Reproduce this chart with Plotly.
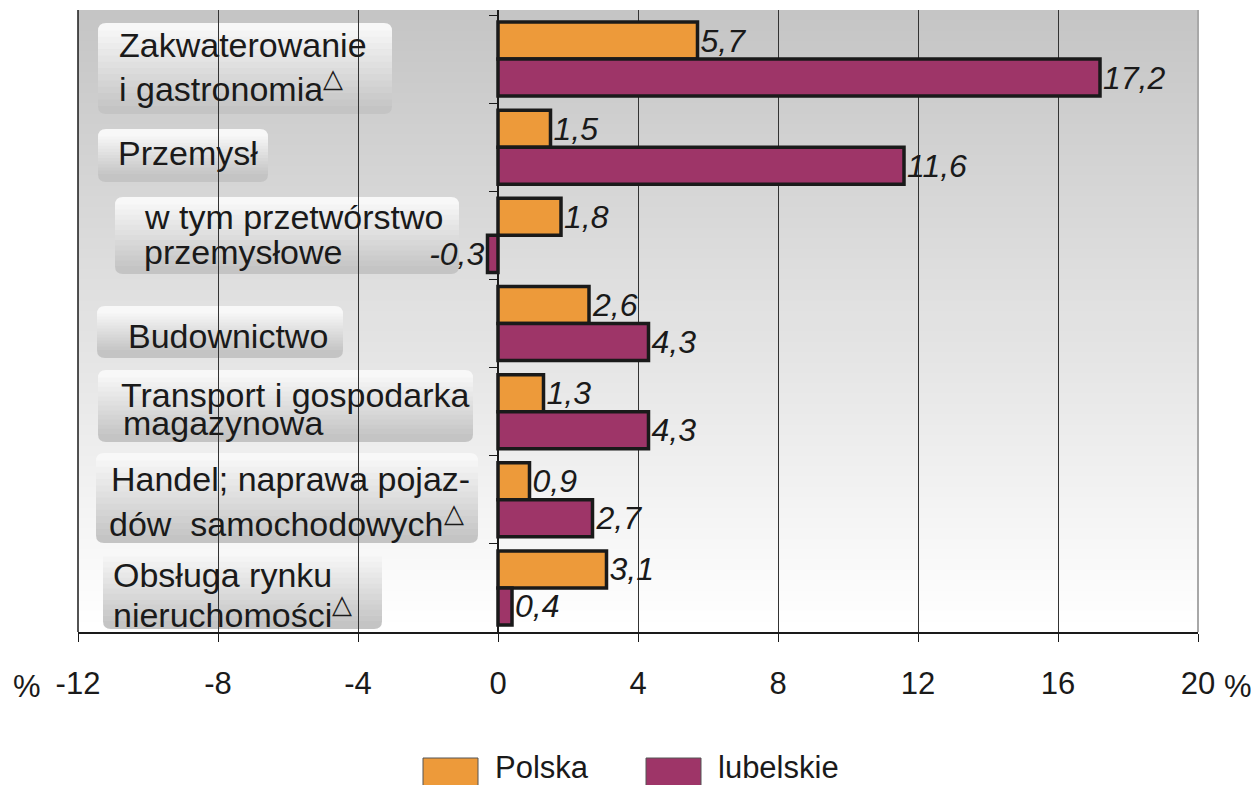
import plotly.graph_objs as go

# data (top to bottom)
TRI = "<sup><span style='font-size:26px'>△</span></sup>"
categories = [
    "Zakwaterowanie\ni gastronomia" + TRI,
    "Przemysł",
    "w tym przetwórstwo\nprzemysłowe",
    "Budownictwo",
    "Transport i gospodarka\nmagazynowa",
    "Handel; naprawa pojaz-\ndów  samochodowych" + TRI,
    "Obsługa rynku\nnieruchomości" + TRI,
]
polska = [5.7, 1.5, 1.8, 2.6, 1.3, 0.9, 3.1]
lubelskie = [17.2, 11.6, -0.3, 4.3, 4.3, 2.7, 0.4]
x_ticks = [-12, -8, -4, 0, 4, 8, 12, 16, 20]
x_tick_labels = ["-12", "-8", "-4", "0", "4", "8", "12", "16", "20"]
series_names = ["Polska", "lubelskie"]

# the page body has an 8px margin, so the figure is drawn 8px in from the corner
PAGE_OFF = 8
W, H = 1259 - PAGE_OFF, 785 - PAGE_OFF
L, R, T, B = 78 - PAGE_OFF, 61, 10 - PAGE_OFF, 153
ORANGE = "#ED9A3A"
PURPLE = "#9E3568"
FONT = "Liberation Sans, Arial, sans-serif"

# label box placement in screen pixels (x0, y0, x1, y1) and text line anchors
label_boxes = [(98, 23, 392, 114), (98, 129, 268, 182), (115, 197, 459, 274),
               (97, 306, 343, 358), (98, 370, 473, 442), (96, 453, 478, 543),
               (103, 549, 382, 629)]
label_lines = [[(117, 45), (117, 85)], [(116, 153)], [(142, 217), (142, 252)],
               [(126, 336)], [(119, 395), (121, 423)], [(109, 479), (107, 520)],
               [(111, 575), (111, 611)]]


def px(x):
    # screen pixel -> paper x
    return (x - PAGE_OFF - L) / (W - L - R)


def py(y):
    # screen pixel -> paper y
    return (H - B - (y - PAGE_OFF)) / (H - T - B)


def fmt(v):
    return f"{v:.1f}".replace(".", ",")


def grey(level):
    h = f"{int(round(level)):02x}"
    return "#" + h * 3


def gradient_background(n=60):
    shapes = []
    for i in range(n):
        c = 197 + (255 - 197) * (i + 0.5) / n
        shapes.append(dict(type="rect", xref="paper", yref="paper",
                           x0=0, x1=1, y0=1 - (i + 1) / n - 0.002, y1=1 - i / n,
                           fillcolor=grey(c), line_width=0, layer="below"))
    return shapes


def rounded_box(x0, y0, x1, y1, r=8, n=12):
    """vertical white->grey gradient box built from strips"""
    shapes = []
    edges = [y0, y0 + r] + [y0 + r + (y1 - y0 - 2 * r) * k / n for k in range(1, n)] + [y1 - r, y1]
    m = len(edges) - 1
    for i in range(m):
        a, b = edges[i], edges[i + 1]
        t = (i + 0.5) / m
        c = 250 - (250 - 194) * t
        if i == 0:
            path = (f"M{px(x0)},{py(b)} L{px(x0)},{py(a + r)} Q{px(x0)},{py(a)} {px(x0 + r)},{py(a)} "
                    f"L{px(x1 - r)},{py(a)} Q{px(x1)},{py(a)} {px(x1)},{py(a + r)} L{px(x1)},{py(b)} Z")
        elif i == m - 1:
            path = (f"M{px(x0)},{py(a)} L{px(x0)},{py(b - r)} Q{px(x0)},{py(b)} {px(x0 + r)},{py(b)} "
                    f"L{px(x1 - r)},{py(b)} Q{px(x1)},{py(b)} {px(x1)},{py(b - r)} L{px(x1)},{py(a)} Z")
        else:
            path = (f"M{px(x0)},{py(a - 0.5)} L{px(x1)},{py(a - 0.5)} "
                    f"L{px(x1)},{py(b)} L{px(x0)},{py(b)} Z")
        shapes.append(dict(type="path", xref="paper", yref="paper", path=path,
                           fillcolor=grey(c), line_width=0, layer="between"))
    return shapes


ypos = list(range(len(categories)))

traces = []
for name, vals, color in [(series_names[0], polska, ORANGE), (series_names[1], lubelskie, PURPLE)]:
    traces.append(go.Bar(
        y=ypos, x=vals, orientation="h", name=name,
        marker=dict(color=color, line=dict(color="#1a1a1a", width=3.5)),
        text=[fmt(v) for v in vals], textposition="outside",
        textfont=dict(family=FONT, size=32, color="#1a1a1a", style="italic"),
        constraintext="none", cliponaxis=False, showlegend=False,
    ))

shapes = gradient_background()
for box in label_boxes:
    shapes += rounded_box(*box)

# left border dark, right border light
shapes.append(dict(type="line", xref="paper", yref="paper", x0=0, x1=0, y0=0, y1=1,
                   line=dict(color="#1a1a1a", width=1.5)))
shapes.append(dict(type="line", xref="paper", yref="paper", x0=1, x1=1, y0=0, y1=1,
                   line=dict(color="#a8a8a8", width=2), layer="between"))

annotations = []
for cat, anchors in zip(categories, label_lines):
    for line, (lx, ly) in zip(cat.split("\n"), anchors):
        annotations.append(dict(text=line, x=px(lx), y=py(ly), xref="paper", yref="paper",
                                xanchor="left", yanchor="middle", showarrow=False,
                                font=dict(family=FONT, size=34, color="#1a1a1a")))

# percent signs beside the axis labels
for tx, anchor in [(11, "left"), (1254, "right")]:
    annotations.append(dict(text="%", x=px(tx), y=py(686), xref="paper", yref="paper",
                            xanchor=anchor, yanchor="middle", showarrow=False,
                            font=dict(family=FONT, size=31, color="#1a1a1a")))

# legend drawn by hand (large swatches)
for name, color, sx in [(series_names[0], ORANGE, 423), (series_names[1], PURPLE, 646)]:
    shapes.append(dict(type="rect", xref="paper", yref="paper",
                       x0=px(sx), x1=px(sx + 55), y0=py(758), y1=py(792),
                       fillcolor=color, line=dict(color="#555555", width=1)))
    annotations.append(dict(text=name, x=px(sx + 70), y=py(767), xref="paper", yref="paper",
                            xanchor="left", yanchor="middle", showarrow=False,
                            font=dict(family=FONT, size=31, color="#1a1a1a")))

layout = go.Layout(
    width=W, height=H,
    margin=dict(l=L, r=R, t=T, b=B),
    paper_bgcolor="white", plot_bgcolor="rgba(0,0,0,0)",
    barmode="group", bargap=0.16, bargroupgap=0,
    xaxis=dict(range=[-12, 20], tickvals=x_ticks, ticktext=x_tick_labels,
               ticks="outside", ticklen=8,
               tickcolor="#1a1a1a", showline=True, linecolor="#1a1a1a", linewidth=1.5,
               showgrid=True, gridcolor="#333333", gridwidth=1, zeroline=False,
               tickfont=dict(family=FONT, size=31, color="#1a1a1a"),
               ticklabelstandoff=15, fixedrange=True),
    yaxis=dict(range=[6.5, -0.557], anchor="free", position=12 / 32,
               tickvals=[k - 0.5 for k in range(len(categories) + 1)],
               ticks="outside", ticklen=8, tickcolor="#1a1a1a",
               showticklabels=False, showline=True, linecolor="#1a1a1a", linewidth=1.5,
               showgrid=False, zeroline=False, fixedrange=True),
    shapes=shapes, annotations=annotations, showlegend=False,
)

fig = go.Figure(data=traces, layout=layout)
fig.write_html("out.html")
